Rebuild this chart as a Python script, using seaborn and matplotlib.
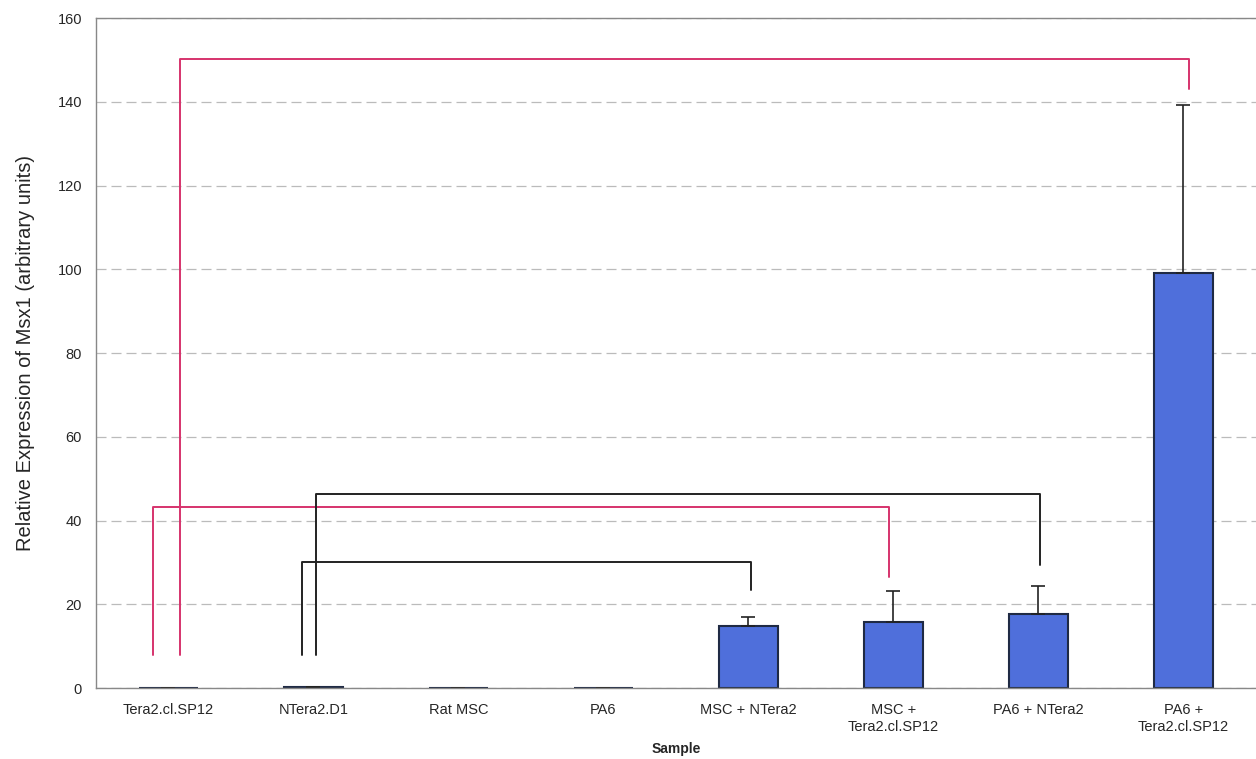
import matplotlib
matplotlib.use("Agg")
import matplotlib.pyplot as plt
import seaborn as sns
import numpy as np
import pandas as pd

# --- data ---
samples = ["Tera2.cl.SP12", "NTera2.D1", "Rat MSC", "PA6", "MSC + NTera2",
           "MSC +\nTera2.cl.SP12", "PA6 + NTera2", "PA6 +\nTera2.cl.SP12"]
expression = [0.1, 0.3, 0.0, 0.0, 14.8, 15.8, 17.6, 99.2]
err_up = [0.0, 0.0, 0.0, 0.0, 2.2, 7.4, 6.7, 40.0]

# comparison brackets: (start x, end x, bar height, end drop, colour)
brackets_x0 = [0.08, -0.11, 0.92, 1.02]
brackets_x1 = [7.04, 4.97, 4.02, 6.01]
brackets_h = [150.3, 43.2, 30.0, 46.4]
brackets_end = [143.0, 26.5, 23.4, 29.4]
brackets_col = ["#d6336c", "#d6336c", "#222222", "#222222"]

df = pd.DataFrame({"Sample": samples, "Expr": expression})

sns.set_style("white")
plt.rcParams["font.family"] = ["Liberation Sans", "DejaVu Sans"]

fig = plt.figure(figsize=(12.56, 7.59), dpi=100)
ax = fig.add_axes([0.0764, 0.0935, 0.9236, 0.8825])

sns.barplot(data=df, x="Sample", y="Expr", color="#4f6fdb", saturation=1,
            width=0.41, edgecolor="#1f2a44", linewidth=1.5, ax=ax, errorbar=None)

xs = np.arange(len(samples))
ax.errorbar(xs, expression, yerr=[np.zeros(len(xs)), err_up], fmt="none",
            ecolor="#222222", elinewidth=1.2, capsize=5, capthick=1.2)

for x0, x1, h, e, c in zip(brackets_x0, brackets_x1, brackets_h, brackets_end, brackets_col):
    ax.plot([x0, x0, x1, x1], [7.9, h, h, e], color=c, lw=1.4, clip_on=False)

ax.set_ylim(0, 160)
ax.set_xlim(-0.5, 7.5)
ax.set_yticks(np.arange(0, 161, 20))
ax.yaxis.grid(True, linestyle=(0, (8, 4)), color="#bbbbbb", linewidth=0.9)
ax.set_axisbelow(True)
for s in ["left", "top", "bottom"]:
    ax.spines[s].set_color("#888888")
    ax.spines[s].set_linewidth(1.0)
ax.spines["right"].set_visible(False)
ax.tick_params(axis="x", labelsize=10.5, length=0, pad=11)
ax.tick_params(axis="y", labelsize=10.5, length=0, pad=10)
ax.set_xlabel("Sample", fontsize=10, fontweight="bold", labelpad=6)
ax.set_ylabel("Relative Expression of Msx1 (arbitrary units)", fontsize=14.5, labelpad=16)

fig.savefig("out.png", dpi=100)
